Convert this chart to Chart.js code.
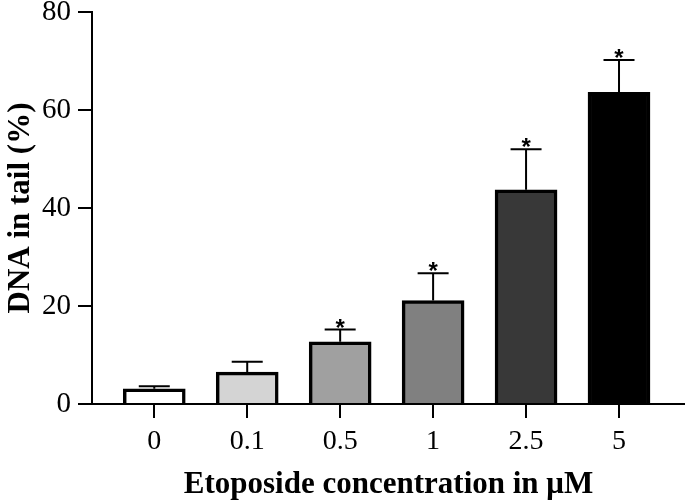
<!DOCTYPE html>
<html>
<head>
<meta charset="utf-8">
<script src="https://cdn.jsdelivr.net/npm/chart.js@4"></script>
<style>
  body { margin: 0; background: #fff; }
  canvas { display: block; }
</style>
</head>
<body>
<canvas id="grafico" width="685" height="502"></canvas>
<script>
// dados
const concentracoes = ["0", "0.1", "0.5", "1", "2.5", "5"];
const medias = [3.1, 6.5, 12.7, 21.1, 43.7, 63.6];
const desvios = [0.5, 2.1, 2.5, 5.6, 8.3, 6.6];
const significativo = [false, false, true, true, true, true];
const ticksY = [0, 20, 40, 60, 80];
const cores = ["#ffffff", "#d4d4d4", "#a0a0a0", "#808080", "#383838", "#000000"];

const serif = "'Liberation Serif', 'Times New Roman', serif";

// barras de erro (só para cima) e asteriscos
const barrasErro = {
    id: "barrasErro",
    afterDatasetsDraw(chart) {
        const ctx = chart.ctx;
        const x = chart.scales.x;
        const y = chart.scales.y;
        ctx.save();
        ctx.strokeStyle = "#000";
        ctx.lineWidth = 2;
        medias.forEach((m, i) => {
            const px = x.getPixelForValue(i);
            const yTopo = y.getPixelForValue(m);
            const yCap = y.getPixelForValue(m + desvios[i]);
            ctx.beginPath();
            ctx.moveTo(px, yTopo);
            ctx.lineTo(px, yCap);
            ctx.moveTo(px - 15.5, yCap);
            ctx.lineTo(px + 15.5, yCap);
            ctx.stroke();
            if (significativo[i]) {
                ctx.fillStyle = "#000";
                ctx.font = "bold 24px 'Liberation Sans', Arial, sans-serif";
                ctx.textAlign = "center";
                ctx.textBaseline = "alphabetic";
                ctx.fillText("*", px, yCap + 6);
            }
        });
        ctx.restore();
    }
};

new Chart(document.getElementById("grafico"), {
    type: "bar",
    data: {
        datasets: [{
            data: medias.map((v, i) => ({ x: i, y: v })),
            backgroundColor: cores,
            borderColor: "#000",
            borderWidth: 3.5,
            barThickness: 62
        }]
    },
    options: {
        responsive: false,
        animation: false,
        layout: { padding: { top: 12, right: 0, bottom: 0, left: 0 } },
        plugins: { legend: { display: false }, tooltip: { enabled: false } },
        scales: {
            x: {
                type: "linear",
                min: -0.67,
                max: 5.71,
                offset: false,
                z: 1,
                afterBuildTicks: s => { s.ticks = concentracoes.map((c, i) => ({ value: i })); },
                afterFit: s => { s.height = 98; s.paddingLeft = 0; s.paddingRight = 0; },
                grid: { offset: false, drawOnChartArea: false, drawTicks: true, tickLength: 14, color: "#000", lineWidth: 2 },
                border: { display: true, color: "#000", width: 2 },
                ticks: {
                    color: "#000",
                    padding: 7,
                    maxRotation: 0,
                    font: { family: serif, size: 28 },
                    callback: v => concentracoes[v]
                },
                title: {
                    display: true,
                    text: "Etoposide concentration in μM",
                    color: "#000",
                    font: { family: serif, size: 31, weight: "bold" },
                    padding: { top: 0, bottom: -2 }
                }
            },
            y: {
                min: 0,
                max: 80,
                afterBuildTicks: s => { s.ticks = ticksY.map(v => ({ value: v })); },
                afterFit: s => { s.width = 92; s.paddingTop = 0; s.paddingBottom = 0; },
                grid: { drawOnChartArea: false, drawTicks: true, tickLength: 14, color: "#000", lineWidth: 2 },
                border: { display: true, color: "#000", width: 2 },
                ticks: {
                    color: "#000",
                    padding: 7,
                    font: { family: serif, size: 29 }
                },
                title: {
                    display: true,
                    text: "DNA in tail (%)",
                    color: "#000",
                    font: { family: serif, size: 31, weight: "bold" },
                    padding: { top: 2, bottom: 0 }
                }
            }
        }
    },
    plugins: [barrasErro]
});
</script>
</body>
</html>
